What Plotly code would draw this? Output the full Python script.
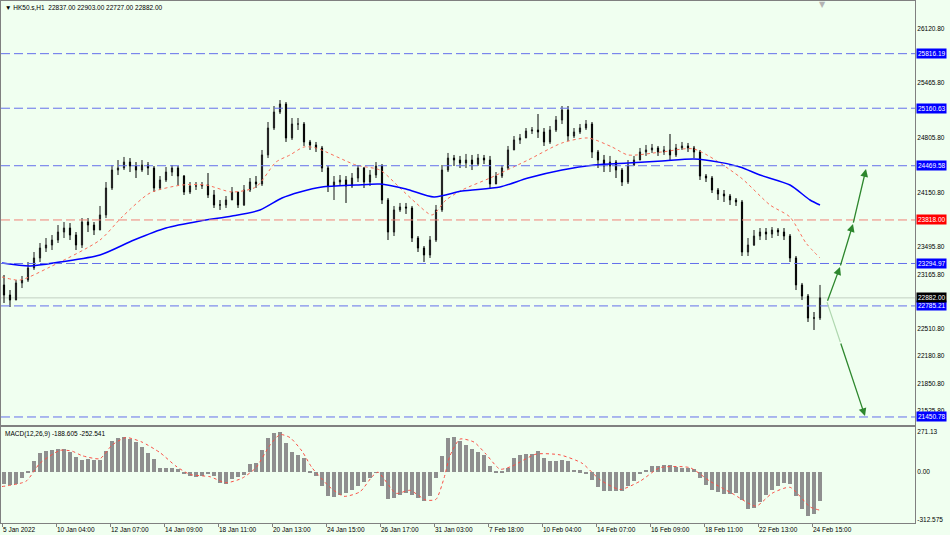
import plotly.graph_objects as go
from plotly.subplots import make_subplots

# ---- chart header / indicator readouts ----
SYMBOL = "HK50.s,H1"
LAST_OHLC = [22837.00, 22903.00, 22727.00, 22882.00]
MACD_NAME = "MACD(12,26,9)"
MACD_LAST = [-188.605, -252.541]

# ---- time axis ----
DATE_LABELS = ["5 Jan 2022", "10 Jan 04:00", "12 Jan 07:00", "14 Jan 09:00",
               "18 Jan 11:00", "20 Jan 13:00", "24 Jan 15:00", "26 Jan 17:00",
               "31 Jan 03:00", "7 Feb 18:00", "10 Feb 04:00", "14 Feb 07:00",
               "16 Feb 09:00", "18 Feb 11:00", "22 Feb 13:00", "24 Feb 15:00"]
BARS_PER_LABEL = 27   # hourly bars between two time labels
CANDLE_SPAN = 3       # hourly bars merged into one drawn candle

# ---- price candles ----
FIRST_OPEN = 23037
CLOSE = [22916, 22856, 23061, 23096, 23241, 23361, 23481, 23517, 23577, 23673,
         23721, 23637, 23517, 23793, 23757, 23697, 23878, 24202, 24418, 24442,
         24514, 24466, 24418, 24478, 24442, 24202, 24298, 24394, 24442, 24346,
         24154, 24226, 24226, 24238, 24118, 23998, 23998, 24058, 24154, 23998,
         24178, 24274, 24250, 24599, 24923, 25115, 25211, 24803, 24971, 24971,
         24755, 24719, 24683, 24442, 24226, 24274, 24298, 24226, 24322, 24442,
         24274, 24358, 24466, 24058, 23673, 23938, 23974, 23962, 23601, 23481,
         23397, 23577, 23938, 24418, 24562, 24538, 24502, 24538, 24490, 24562,
         24538, 24250, 24346, 24442, 24659, 24779, 24803, 24887, 24899, 24875,
         24755, 24899, 25019, 25139, 24827, 24875, 24923, 24971, 24635, 24538,
         24466, 24514, 24418, 24274, 24478, 24538, 24635, 24659, 24683, 24635,
         24659, 24599, 24683, 24707, 24683, 24635, 24346, 24322, 24178, 24130,
         24106, 24058, 24034, 23433, 23517, 23625, 23673, 23649, 23697, 23673,
         23625, 23361, 23037, 22904, 22640, 22640, 22882]
HIGH = [23157, 22976, 23096, 23145, 23313, 23433, 23541, 23601, 23637, 23757,
        23793, 23781, 23673, 23841, 23841, 23793, 23986, 24274, 24478, 24538,
        24575, 24562, 24514, 24538, 24514, 24466, 24346, 24454, 24478, 24466,
        24358, 24274, 24274, 24274, 24382, 24178, 24058, 24106, 24214, 24154,
        24238, 24322, 24346, 24659, 24995, 25187, 25259, 25235, 25043, 25043,
        24995, 24779, 24755, 24707, 24466, 24346, 24358, 24346, 24382, 24478,
        24454, 24418, 24514, 24490, 24082, 23986, 24022, 24022, 23986, 23625,
        23505, 23625, 23998, 24478, 24623, 24599, 24587, 24611, 24599, 24611,
        24599, 24587, 24394, 24478, 24707, 24827, 24851, 24923, 24935, 25091,
        24923, 24947, 25067, 25187, 25187, 24923, 24971, 25019, 24995, 24659,
        24599, 24587, 24538, 24442, 24538, 24587, 24683, 24719, 24731, 24707,
        24707, 24851, 24731, 24755, 24743, 24707, 24659, 24370, 24346, 24202,
        24178, 24130, 24082, 24058, 23601, 23697, 23721, 23721, 23733, 23721,
        23721, 23649, 23385, 23061, 22928, 22712, 23037]
LOW = [22820, 22772, 22856, 23000, 23073, 23217, 23313, 23433, 23457, 23541,
       23601, 23577, 23457, 23481, 23673, 23637, 23697, 23841, 24178, 24358,
       24418, 24394, 24322, 24394, 24358, 24154, 24178, 24274, 24346, 24238,
       24118, 24130, 24178, 24190, 24082, 23962, 23938, 23962, 24058, 23962,
       23986, 24154, 24202, 24226, 24562, 24899, 25091, 24755, 24779, 24899,
       24707, 24659, 24635, 24394, 24154, 24058, 24226, 24022, 24202, 24274,
       24202, 24226, 24322, 24010, 23577, 23625, 23914, 23890, 23553, 23433,
       23313, 23361, 23553, 23914, 24394, 24466, 24442, 24442, 24418, 24466,
       24490, 24202, 24250, 24322, 24418, 24659, 24731, 24803, 24851, 24803,
       24707, 24731, 24875, 24971, 24767, 24803, 24851, 24899, 24562, 24442,
       24394, 24394, 24322, 24226, 24250, 24466, 24538, 24587, 24623, 24587,
       24599, 24538, 24575, 24659, 24635, 24562, 24298, 24274, 24142, 24058,
       24034, 23998, 23986, 23385, 23385, 23505, 23577, 23577, 23601, 23625,
       23577, 23313, 22976, 22856, 22592, 22496, 22616]

# ---- moving averages (bar index, price) ----
MA_SLOW_BARS = [0, 14, 29, 49, 66, 82, 99, 115, 129, 140, 149, 160, 177, 189,
                202, 216, 230, 249, 263, 280, 296, 313, 330, 346, 359, 369,
                379, 394, 404, 409]
MA_SLOW_VALUES = [23301, 23265, 23313, 23397, 23577, 23721, 23805, 23865,
                  23938, 24082, 24154, 24214, 24238, 24250, 24190, 24094,
                  24166, 24214, 24322, 24418, 24478, 24502, 24526, 24550,
                  24510, 24454, 24358, 24238, 24058, 23998]
MA_FAST_BARS = [0, 9, 24, 49, 60, 74, 90, 102, 115, 127, 137, 144, 151, 157,
                177, 189, 199, 207, 215, 222, 230, 244, 263, 280, 293, 305,
                313, 330, 346, 369, 384, 394, 402, 409]
MA_FAST_VALUES = [23133, 23096, 23253, 23577, 23853, 24142, 24238, 24238,
                  24154, 24214, 24514, 24599, 24695, 24683, 24478, 24418,
                  24202, 24022, 23878, 24058, 24178, 24322, 24538, 24743,
                  24803, 24695, 24599, 24635, 24670, 24334, 23998, 23853,
                  23541, 23361]

# ---- MACD: main line per drawn candle, signal as (bar, value) ----
MACD_HIST = [-75, -82, -78, -40, 5, 75, 127, 140, 147, 152,
             153, 135, 98, 82, 85, 80, 84, 140, 205, 228,
             234, 222, 200, 165, 128, 88, 29, 30, 28, 22,
             -10, -26, -31, -22, -15, -25, -70, -75, -48, -35,
             -20, 53, 58, 150, 230, 258, 269, 195, 132, 112,
             95, 4, -28, -90, -155, -165, -150, -135, -118, -90,
             -62, -36, -5, -90, -175, -170, -150, -137, -150, -170,
             -188, -160, -40, 110, 228, 236, 205, 182, 155, 133,
             115, 40, 2, 5, 30, 97, 117, 120, 123, 138,
             95, 73, 73, 78, 75, 18, 13, -10, -50, -100,
             -126, -123, -122, -122, -92, -55, -10, 17, 38, 42,
             48, 45, 32, 30, 28, 22, -37, -88, -115, -132,
             -142, -142, -137, -185, -245, -235, -195, -152, -120, -90,
             -70, -80, -160, -245, -290, -275, -188.6]
SIGNAL_BARS = [0, 12, 19, 29, 35, 40, 49, 55, 62, 70, 79, 87, 94, 104, 112,
               120, 127, 134, 139, 144, 150, 155, 164, 171, 179, 185, 188,
               197, 204, 212, 217, 221, 224, 229, 236, 242, 249, 255, 267,
               279, 290, 299, 309, 319, 329, 344, 354, 365, 377, 385, 394,
               404, 409]
SIGNAL_VALUES = [-95, -60, 60, 145, 140, 110, 90, 180, 230, 200, 130, 40,
                 -15, -30, -70, -40, 30, 180, 250, 230, 140, 30, -100, -160,
                 -130, -30, 0, -140, -120, -185, -180, -40, 110, 220, 200,
                 120, 20, 40, 120, 115, 60, -50, -115, -60, 30, 30, -60,
                 -140, -225, -140, -100, -230, -252.5]

# ---- horizontal levels and axis ticks ----
BLUE_LEVELS = [25816.19, 25160.63, 24469.58, 23294.97, 22785.21, 21450.78]
RED_LEVEL = 23818.00
PRICE_TICKS = [26120.80, 25465.80, 24805.80, 24150.80, 23495.80, 23165.80,
               22510.80, 22180.80, 21850.80, 21525.80]
MACD_TICKS = [271.13, 0.00, -312.575]
MACD_TICK_TEXT = ["271.13", "0.00", "-312.575"]

# ---- projection arrows drawn on the chart (bar, price) ----
PROJ_UP_BARS = [412.5, 419, 425.5, 432]
PROJ_UP_PRICES = [22830, 23253, 23769, 24430]
PROJ_DOWN_BARS = [412.5, 431.5]
PROJ_DOWN_PRICES = [22830, 21462]

FONT = "Liberation Sans, Arial, sans-serif"
BG = "#F0FFF0"
FRAME = "#808080"
LEVEL_BLUE = "rgb(100,112,235)"
LEVEL_RED = "rgb(240,130,120)"
ARROW_GREEN = "rgb(45,135,45)"
SMALL = 6.5

bars = [CANDLE_SPAN * i + 1 for i in range(len(CLOSE))]
opens = [FIRST_OPEN] + CLOSE[:-1]
tick_bars = [BARS_PER_LABEL * k for k in range(len(DATE_LABELS))]

fig = make_subplots(rows=2, cols=1, shared_xaxes=True)

fig.add_trace(go.Candlestick(
    x=bars, open=opens, high=HIGH, low=LOW, close=CLOSE,
    increasing=dict(line=dict(color="#1a1a1a", width=1), fillcolor="#6e6e6e"),
    decreasing=dict(line=dict(color="#000000", width=1), fillcolor="#000000"),
    whiskerwidth=0, hoverinfo="skip"), row=1, col=1)

fig.add_trace(go.Scatter(
    x=MA_FAST_BARS, y=MA_FAST_VALUES, mode="lines",
    line=dict(color="rgb(250,110,90)", width=1, dash="dot", shape="spline", smoothing=0.7),
    hoverinfo="skip"), row=1, col=1)
fig.add_trace(go.Scatter(
    x=MA_SLOW_BARS, y=MA_SLOW_VALUES, mode="lines",
    line=dict(color="#0000FF", width=1.5, shape="spline", smoothing=0.7),
    hoverinfo="skip"), row=1, col=1)

# MACD main line drawn as a dense grey histogram
fig.add_trace(go.Bar(
    x=bars, y=MACD_HIST, width=CANDLE_SPAN * 0.8,
    marker=dict(color="#8f8f8f", line=dict(width=0)), hoverinfo="skip"), row=2, col=1)
fig.add_trace(go.Scatter(
    x=SIGNAL_BARS, y=SIGNAL_VALUES, mode="lines",
    line=dict(color="rgb(250,80,70)", width=1, dash="dot", shape="spline", smoothing=0.6),
    hoverinfo="skip"), row=2, col=1)

# level lines
fig.add_hline(y=LAST_OHLC[3], row=1, col=1, layer="below",
              line=dict(color="rgb(195,208,195)", width=1))
for lvl in BLUE_LEVELS:
    fig.add_hline(y=lvl, row=1, col=1, line=dict(color=LEVEL_BLUE, width=1, dash="9px,4px"))
fig.add_hline(y=RED_LEVEL, row=1, col=1, line=dict(color=LEVEL_RED, width=1, dash="9px,4px"))

# price boxes on the right scale
boxes = [(v, "#0000FF") for v in BLUE_LEVELS] + [(RED_LEVEL, "#FF0000"), (LAST_OHLC[3], "#000000")]
for val, col in boxes:
    fig.add_annotation(xref="paper", yref="y", x=1, y=val, xanchor="left", yanchor="middle",
                       xshift=1, text=f"{val:.2f}", showarrow=False, bgcolor=col,
                       borderpad=1, font=dict(color="white", size=SMALL, family=FONT))

# projection arrows
for i in range(len(PROJ_UP_BARS) - 1):
    fig.add_annotation(xref="x", yref="y", axref="x", ayref="y",
                       ax=PROJ_UP_BARS[i], ay=PROJ_UP_PRICES[i],
                       x=PROJ_UP_BARS[i + 1], y=PROJ_UP_PRICES[i + 1],
                       text="", showarrow=True, arrowhead=2, arrowsize=1.2,
                       arrowwidth=1.3, arrowcolor=ARROW_GREEN)
split = 0.35
mid_bar = PROJ_DOWN_BARS[0] + split * (PROJ_DOWN_BARS[1] - PROJ_DOWN_BARS[0])
mid_price = PROJ_DOWN_PRICES[0] + split * (PROJ_DOWN_PRICES[1] - PROJ_DOWN_PRICES[0])
fig.add_shape(type="line", xref="x", yref="y", x0=PROJ_DOWN_BARS[0], y0=PROJ_DOWN_PRICES[0],
              x1=mid_bar, y1=mid_price, line=dict(color="rgb(175,215,175)", width=1.2))
fig.add_annotation(xref="x", yref="y", axref="x", ayref="y",
                   ax=mid_bar, ay=mid_price, x=PROJ_DOWN_BARS[1], y=PROJ_DOWN_PRICES[1],
                   text="", showarrow=True, arrowhead=2, arrowsize=1.2,
                   arrowwidth=1.3, arrowcolor=ARROW_GREEN)

# header texts
fig.add_annotation(xref="paper", yref="paper", x=0, y=1, xanchor="left", yanchor="top",
                   xshift=2, yshift=-1, showarrow=False,
                   text="\u25bc " + SYMBOL + "  " + " ".join(f"{v:.2f}" for v in LAST_OHLC),
                   font=dict(size=SMALL, color="#000000", family=FONT))
fig.add_annotation(xref="paper", yref="y2 domain", x=0, y=1, xanchor="left", yanchor="top",
                   xshift=2, yshift=-1, showarrow=False,
                   text=MACD_NAME + " " + " ".join(f"{v:.3f}" for v in MACD_LAST),
                   font=dict(size=SMALL, color="#000000", family=FONT))
fig.add_annotation(xref="x", yref="paper", x=410, y=1, xanchor="center", yanchor="top",
                   yshift=3, showarrow=False, text="\u25bc",
                   font=dict(size=8, color="#b4b4b4", family="DejaVu Sans"))

fig.update_xaxes(range=[-0.5, 456.5], showgrid=False, zeroline=False, showline=True,
                 mirror=True, linecolor=FRAME, linewidth=1, rangeslider_visible=False)
fig.update_xaxes(showticklabels=False, ticks="", row=1, col=1)
fig.update_xaxes(tickmode="array", tickvals=tick_bars, ticktext=DATE_LABELS,
                 ticks="outside", ticklen=3, tickcolor=FRAME, ticklabelposition="outside right",
                 tickfont=dict(size=SMALL, color="#000000", family=FONT), row=2, col=1)

fig.update_yaxes(side="right", showgrid=False, zeroline=False, showline=True, mirror=True,
                 linecolor=FRAME, linewidth=1, ticks="",
                 tickfont=dict(size=SMALL, color="#000000", family=FONT))
fig.update_yaxes(range=[21354, 26449], tickmode="array", tickvals=PRICE_TICKS,
                 ticktext=[f"{v:.2f}" for v in PRICE_TICKS], row=1, col=1)
fig.update_yaxes(range=[-337, 300], tickmode="array", tickvals=MACD_TICKS,
                 ticktext=MACD_TICK_TEXT, row=2, col=1)

fig.update_layout(
    width=950, height=535,
    margin=dict(l=1, r=35, t=1, b=12),
    paper_bgcolor=BG, plot_bgcolor=BG,
    showlegend=False,
    font=dict(family=FONT, size=SMALL, color="#000000"),
    yaxis=dict(domain=[0.1877, 1.0]),
    yaxis2=dict(domain=[0.0, 0.1839]),
    bargap=0,
    boxgap=0.72,
)

fig.write_html("out.html", config={"displayModeBar": False},
               post_script="document.body.style.margin='0';document.body.style.overflow='hidden';")
